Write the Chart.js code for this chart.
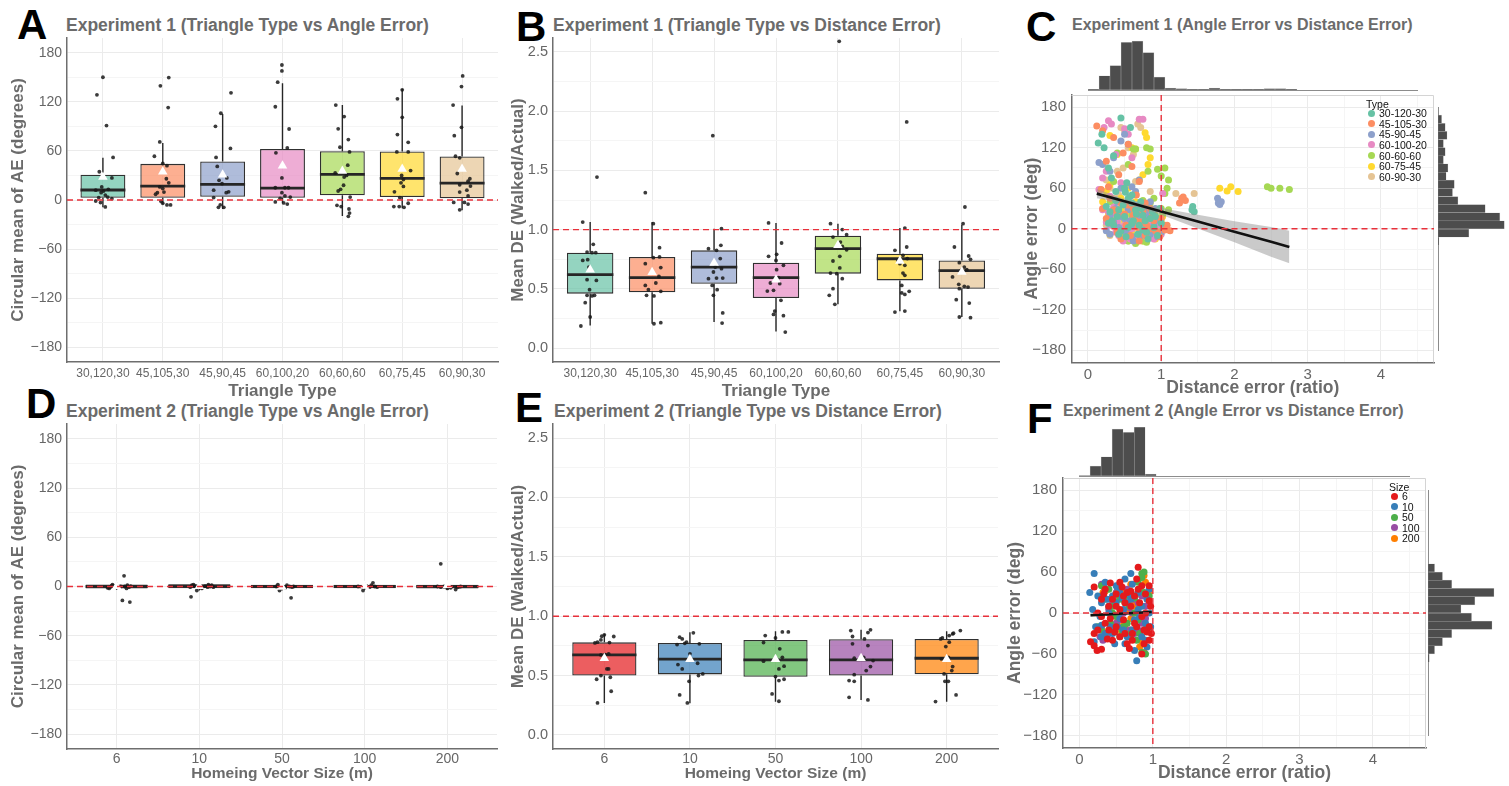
<!DOCTYPE html>
<html>
<head>
<meta charset="utf-8">
<script src="https://cdn.jsdelivr.net/npm/chart.js"></script>
<style>
  body { margin: 0; background: #fff; width: 1509px; height: 786px; position: relative; overflow: hidden;
         font-family: 'Liberation Sans', Arial, sans-serif; }
  canvas { position: absolute; }
  .letter { position: absolute; font-size: 42px; font-weight: bold; line-height: 1; color: #000; }
  .ttl { position: absolute; font-weight: bold; color: #6b6b6b; line-height: 1; white-space: nowrap; }
  .lg { position: absolute; font-family: 'Liberation Sans', Arial, sans-serif;
        font-size: 10.5px; line-height: 1; color: #111; white-space: nowrap; }
  .dot { position: absolute; width: 7px; height: 7px; border-radius: 50%; }
</style>
</head>
<body>

<div class="letter" style="left:17px;top:4px">A</div>
<div class="letter" style="left:516px;top:6px">B</div>
<div class="letter" style="left:1026px;top:6px">C</div>
<div class="letter" style="left:26px;top:383px">D</div>
<div class="letter" style="left:515px;top:387px">E</div>
<div class="letter" style="left:1027px;top:398px">F</div>

<div class="ttl" style="left:66px;top:17px;font-size:17.5px">Experiment 1 (Triangle Type vs Angle Error)</div>
<div class="ttl" style="left:553px;top:17px;font-size:17.5px">Experiment 1 (Triangle Type vs Distance Error)</div>
<div class="ttl" style="left:1072px;top:17px;font-size:16px">Experiment 1 (Angle Error vs Distance Error)</div>
<div class="ttl" style="left:66px;top:403px;font-size:17.5px">Experiment 2 (Triangle Type vs Angle Error)</div>
<div class="ttl" style="left:554px;top:403px;font-size:17.5px">Experiment 2 (Triangle Type vs Distance Error)</div>
<div class="ttl" style="left:1063px;top:403px;font-size:16px">Experiment 2 (Angle Error vs Distance Error)</div>

<canvas id="cA" width="504" height="384" style="left:0px;top:20px"></canvas>
<canvas id="cB" width="505" height="384" style="left:500px;top:20px"></canvas>
<canvas id="cCtop" width="330" height="52" style="left:1088px;top:40px"></canvas>
<canvas id="cCright" width="72" height="244" style="left:1436px;top:107px"></canvas>
<canvas id="cC" width="430" height="325" style="left:1010px;top:77px"></canvas>
<canvas id="cD" width="503" height="380" style="left:0px;top:406px"></canvas>
<canvas id="cE" width="504" height="380" style="left:500px;top:406px"></canvas>
<canvas id="cFtop" width="331" height="51" style="left:1079px;top:427px"></canvas>
<canvas id="cFright" width="72" height="246" style="left:1426px;top:490px"></canvas>
<canvas id="cF" width="437" height="326" style="left:995px;top:460px"></canvas>

<div id="legC"></div>
<div id="legF"></div>

<script>
// ---------------- data ----------------
const TRI_TYPES = ['30,120,30', '45,105,30', '45,90,45', '60,100,20', '60,60,60', '60,75,45', '60,90,30'];
const SIZES = ['6', '10', '50', '100', '200'];

// A: experiment 1, angle error per triangle type
const A_q1   = [2.8, 2.8, 4.0, 2.8, 5.7, 3.6, 2.0];
const A_med  = [12.2, 17.0, 19.0, 14.6, 31.2, 26.4, 20.7];
const A_q3   = [30.8, 44.2, 47.0, 62.4, 59.6, 59.2, 53.1];
const A_lo   = [-9, -5, -11, -4, -19.5, -10, -12.6];
const A_hi   = [51.5, 69.7, 105, 142.7, 116, 135.8, 115.5];
const A_mean = [28, 34.5, 31, 41.8, 35.3, 38, 38];
const A_pts = [
  [150, 128.5, 91, 52, 34.5, 27, 16, 12, 13, 9, 6, 3, 1.6, -1.2, -3.2, -8.5, 3.6, 11],
  [149.6, 139.5, 113, 71, 53.5, 44.6, 42, 26, 21, 16, 14, 9, 7, 9.7, -1.6, -4, -6, -6],
  [131, 106, 90, 63, 52, 41, 27, 24, 20, 12, 10, 9, 3, -6, -9, -9],
  [165, 157.7, 144, 114, 86.8, 57.6, 63.6, 27, 15, 15, 15, 9, 5, 3.6, 2, -2.4, -3.6, -5],
  [116, 102, 87, 73.8, 64.5, 58.8, 42.6, 33, 28, 30, 18, 13, 11, 3.6, -6.5, -8, -11, -16, -20],
  [123.6, 134.6, 101, 80, 70.5, 58.8, 58.8, 36, 30, 25, 21, 16.6, 10, 3, -8, -8, -9, -4],
  [151.6, 138.6, 116, 88.8, 78.6, 53.5, 51.5, 32.4, 26, 23, 18.6, 17, 9.7, 12, 5, -3, -12, -5, -3]
];
const A_jit = [
  [0, -0.1, 0.06, 0.17, -0.06, 0.15, -0.02, -0.12, 0.09, -0.03, 0.04, -0.07, 0.15, -0.12, -0.04, 0.04, 0.08, 0.01],
  [0.1, -0.04, 0.09, -0.05, -0.14, 0, 0.07, 0.06, 0.1, -0.05, 0, -0.09, -0.12, 0.02, -0.03, 0, 0.07, 0.13],
  [0.14, -0.03, -0.12, 0.13, -0.11, -0.09, 0.07, -0.06, -0.01, -0.15, 0.1, 0.06, -0.15, -0.04, 0.02, -0.07],
  [-0.01, -0.01, -0.08, -0.12, 0.11, -0.11, 0.08, -0.01, -0.12, 0.04, 0.1, -0.01, 0.04, 0.13, -0.04, -0.12, 0.02, 0.08],
  [-0.11, 0.03, -0.07, 0.1, -0.04, 0.12, 0.09, -0.12, 0.03, 0.07, 0.02, -0.03, -0.07, 0.13, -0.09, -0.02, 0.11, 0.12, 0.1],
  [-0.08, 0, 0, -0.08, 0.1, -0.09, 0.1, 0.14, -0.01, 0.02, -0.02, 0.02, -0.13, -0.04, -0.14, -0.05, 0.03, 0.1],
  [0.01, -0.01, -0.15, -0.01, -0.13, -0.11, -0.04, -0.08, 0.13, 0.1, -0.04, 0.14, -0.04, 0.08, 0.1, -0.14, -0.04, 0.1, 0.04]
];

// B: experiment 1, distance error per triangle type
const B_q1   = [0.459, 0.47, 0.543, 0.422, 0.628, 0.571, 0.501];
const B_med  = [0.619, 0.594, 0.684, 0.594, 0.839, 0.754, 0.653];
const B_q3   = [0.805, 0.769, 0.825, 0.72, 0.949, 0.797, 0.74];
const B_lo   = [0.19, 0.205, 0.22, 0.14, 0.369, 0.31, 0.262];
const B_hi   = [1.064, 1.064, 1.008, 1.056, 1.05, 1.013, 1.042];
const B_mean = [0.66, 0.64, 0.718, 0.577, 0.867, 0.735, 0.642];
const B_pts = [
  [1.444, 1.064, 0.876, 0.81, 0.805, 0.805, 0.74, 0.746, 0.577, 0.571, 0.493, 0.445, 0.445, 0.44, 0.383, 0.262, 0.186, 0.684],
  [1.312, 1.05, 0.847, 0.763, 0.769, 0.712, 0.679, 0.605, 0.529, 0.549, 0.493, 0.479, 0.445, 0.44, 0.205, 0.214, 0.64],
  [1.793, 1.008, 0.867, 0.839, 0.825, 0.755, 0.67, 0.642, 0.586, 0.591, 0.591, 0.529, 0.493, 0.445, 0.296, 0.211, 0.684],
  [1.056, 0.887, 0.791, 0.774, 0.698, 0.662, 0.594, 0.549, 0.543, 0.481, 0.487, 0.403, 0.312, 0.284, 0.273, 0.135, 0.74],
  [2.59, 1.05, 1.0, 0.957, 0.937, 0.895, 0.859, 0.83, 0.774, 0.735, 0.676, 0.633, 0.586, 0.501, 0.445, 0.369, 0.628],
  [1.909, 1.013, 0.853, 0.825, 0.783, 0.755, 0.74, 0.698, 0.633, 0.614, 0.529, 0.479, 0.465, 0.453, 0.304, 0.312, 0.712],
  [1.191, 1.05, 0.853, 0.777, 0.721, 0.749, 0.684, 0.662, 0.6, 0.538, 0.521, 0.501, 0.515, 0.408, 0.38, 0.262, 0.256, 0.656]
];
const B_jit = [
  [0.11, -0.12, 0.05, -0.05, 0.03, 0.09, -0.12, -0.04, -0.05, 0.1, -0.01, -0.05, 0.07, 0.03, -0.08, 0, -0.15, -0.02],
  [-0.11, 0.02, 0.12, 0.02, 0.12, -0.11, 0.14, 0.11, -0.11, 0.06, -0.06, 0.14, -0.09, 0.03, 0.03, 0.14, -0.01],
  [-0.02, 0.12, 0.11, -0.09, 0.04, 0.1, 0.12, -0.01, -0.09, 0.04, 0.14, -0.03, 0.05, -0.01, 0.14, 0.13, 0.02],
  [-0.12, 0.09, 0.01, -0.12, 0.12, 0.01, 0.04, -0.09, 0.06, -0.14, -0.04, 0.08, -0.02, -0.04, 0.12, 0.15, 0],
  [0.02, -0.12, 0.07, 0.14, -0.08, 0.04, 0.07, 0.14, 0.03, -0.08, 0.03, -0.12, 0.07, -0.08, -0.14, -0.05, -0.02],
  [0.11, 0.08, 0.11, -0.08, 0.05, 0.12, -0.03, 0.08, 0.05, 0.08, 0.03, 0.15, 0.03, 0.08, -0.08, 0.08, 0],
  [0.05, 0.02, -0.12, 0.11, -0.04, 0.14, 0.04, 0.08, -0.15, -0.05, 0.04, -0.04, 0.1, -0.09, 0.12, -0.04, 0.14, -0.01]
];

// D: experiment 2, angle error per homing vector size
const D_q1   = [-2.5, -2, -2.2, -2, -2.3];
const D_med  = [0, 0.5, 0, 0, 0];
const D_q3   = [2.5, 2.8, 2, 2.2, 2];
const D_lo   = [-4, -5, -5, -4, -4];
const D_hi   = [5, 5, 4, 5, 4];
const D_mean = [0.3, 0.2, -0.5, 0.5, 1.5];
const D_pts = [
  [13, -17, -19, -0.8, 2.4, 0.8, 1.6, -0.8, 0, -1.6, -2.4, -2.4, 0.5, 0, 1],
  [-12.6, 2.4, -4.9, -0.8, 0.5, 1.6, 2.4, 1.6, 0.4, -0.8, -2.4, -0.8, 0],
  [-13.8, -4.9, 2.4, 0, -1.6, 1.6, 0, -0.8, 0, -1.6],
  [-4.9, 4.5, 1.6, 0, -0.8, -0.8, 0.8, -0.8, 0],
  [27.6, -3.7, -0.4, -0.8, 0, -1.6, -2.4, -0.8, 0, 0]
];
const D_jit = [
  [0.09, 0.07, 0.16, -0.08, -0.05, -0.03, 0.13, 0.15, 0.1, -0.11, -0.09, 0.12, 0.17, 0.05, -0.06],
  [-0.1, -0.07, -0.03, -0.11, -0.06, -0.09, 0.11, 0.15, 0.07, 0.17, 0.03, 0.1, 0.13],
  [0.11, -0.03, -0.05, -0.07, -0.01, 0.06, 0.09, 0.12, 0.14, 0.04],
  [-0.02, 0.1, 0.08, 0.12, 0.06, -0.04, 0.02, 0.15, -0.08],
  [-0.08, 0.1, 0.14, -0.08, -0.04, 0.04, 0, 0.12, 0.16, -0.12]
];

// E: experiment 2, distance error per homing vector size
const E_q1   = [0.50, 0.51, 0.49, 0.50, 0.511];
const E_med  = [0.674, 0.638, 0.632, 0.632, 0.646];
const E_q3   = [0.78, 0.775, 0.80, 0.806, 0.809];
const E_lo   = [0.27, 0.267, 0.28, 0.295, 0.28];
const E_hi   = [0.85, 0.865, 0.873, 0.885, 0.873];
const E_mean = [0.646, 0.638, 0.638, 0.646, 0.638];
const E_pts = [
  [0.27, 0.368, 0.469, 0.5, 0.486, 0.556, 0.556, 0.677, 0.683, 0.674, 0.775, 0.781, 0.80, 0.831, 0.843, 0.829, 0.778],
  [0.27, 0.337, 0.452, 0.5, 0.514, 0.556, 0.593, 0.604, 0.683, 0.767, 0.761, 0.781, 0.823, 0.809, 0.86, 0.772],
  [0.284, 0.346, 0.458, 0.469, 0.492, 0.556, 0.579, 0.621, 0.654, 0.725, 0.778, 0.837, 0.817, 0.868, 0.868, 0.64],
  [0.295, 0.317, 0.458, 0.452, 0.508, 0.542, 0.576, 0.626, 0.646, 0.654, 0.753, 0.767, 0.809, 0.829, 0.879, 0.885, 0.862],
  [0.281, 0.337, 0.452, 0.452, 0.514, 0.542, 0.576, 0.64, 0.654, 0.744, 0.781, 0.809, 0.817, 0.837, 0.851, 0.879, 0.857]
];
const E_jit = [
  [-0.08, 0.08, -0.09, -0.04, 0.07, 0.05, 0.03, 0.01, 0.05, -0.04, -0.11, -0.08, -0.04, -0.03, 0, 0.11, 0.06],
  [-0.03, -0.12, -0.01, 0.1, 0.15, -0.09, -0.14, 0.09, 0, 0.11, -0.15, -0.04, -0.12, -0.09, 0.04, -0.06],
  [0.04, -0.04, 0.04, 0.1, 0, 0.04, 0.1, -0.14, 0.08, 0.05, -0.14, -0.12, 0, 0.08, 0.15, 0.01],
  [0.08, -0.14, -0.14, -0.08, -0.08, 0.06, 0.11, 0.14, -0.08, 0.03, 0.08, -0.1, 0.04, -0.1, -0.12, 0.11, 0.08],
  [-0.13, 0.11, -0.02, 0.02, -0.03, 0.06, 0.07, -0.06, 0.02, -0.01, 0.03, -0.07, -0.05, 0.03, 0.07, 0.16, 0.08]
];

// C: experiment 1 scatter, [distance ratio, angle error]
const TYPE_NAMES = ['30-120-30', '45-105-30', '45-90-45', '60-100-20', '60-60-60', '60-75-45', '60-90-30'];
const C_30_120_30 = [[0.14,127],[0.19,140],[0.28,90],[0.45,164],[0.51,54],[0.53,68],[0.22,120],[0.35,108],[0.6,50],[0.55,45],[0.48,35],[0.3,25],[0.25,33],[0.4,18],[0.62,12],[0.7,5],[0.8,-5],[0.9,2],[0.65,28],[0.75,20],[0.85,15],[0.5,60],[0.58,150],[0.32,75],[0.42,-8],[0.95,-10],[1.0,8],[1.43,33],[1.45,25],[1.42,28],[0.72,40],[0.38,55],
  [0.35,5],[0.45,-3],[0.55,2],[0.6,8],[0.68,-8],[0.78,12],[0.88,25],[0.5,18],[0.42,28],[0.33,12],[0.73,30],[0.82,-15],[0.6,38],[0.92,18],[0.28,8],[0.52,-12],[0.66,22],[0.38,42],[0.98,30],[0.75,-2]];
const C_45_105_30 = [[0.12,152],[0.2,145],[0.35,135],[0.55,125],[0.6,92],[0.42,80],[0.28,62],[0.18,58],[0.3,45],[0.45,38],[0.62,30],[0.5,22],[0.72,10],[0.85,0],[0.95,-5],[1.05,-2],[1.12,-3],[1.0,15],[0.78,-10],[0.66,50],[0.48,112],[0.25,100],[1.25,38],[1.3,47],[1.33,42],[1.28,45],[0.4,-5],[0.88,22],[0.2,30],[0.7,70],
  [0.33,10],[0.4,20],[0.52,5],[0.58,-10],[0.65,12],[0.75,25],[0.8,5],[0.9,12],[0.98,-12],[1.08,5],[0.55,35],[0.45,-15],[0.7,-18],[0.62,20],[0.85,30],[0.35,28],[0.25,15],[0.92,-3],[0.78,38],[0.68,2]];
const C_45_90_45 = [[0.15,98],[0.2,95],[0.3,85],[0.45,130],[0.5,140],[0.55,125],[0.6,62],[0.65,55],[0.58,48],[0.4,40],[0.3,20],[0.5,15],[0.62,5],[0.75,-5],[0.85,-8],[0.95,-12],[1.05,0],[0.7,72],[0.35,105],[0.82,18],[1.77,45],[1.78,38],[1.8,36],[1.82,40],[0.25,-3],[0.92,30],[0.68,10],[0.45,60],
  [0.35,10],[0.42,2],[0.55,28],[0.6,-12],[0.7,20],[0.78,8],[0.88,-2],[0.98,12],[0.52,-5],[0.65,35],[0.45,18],[0.72,-10],[0.8,28],[0.38,30],[0.58,12],[0.9,5],[1.0,-5],[0.3,-8],[0.85,40],[0.62,-18]];
const C_60_100_20 = [[0.22,150],[0.28,160],[0.32,155],[0.7,162],[0.75,162],[0.5,148],[0.55,140],[0.38,110],[0.25,85],[0.2,75],[0.45,68],[0.3,48],[0.2,28],[0.28,25],[0.35,22],[0.4,10],[0.5,5],[0.6,0],[0.72,-5],[0.8,-12],[0.92,-3],[1.02,52],[0.55,30],[0.65,18],[0.42,-10],[0.85,8],[0.15,58],[0.6,105],[1.0,-8],
  [0.3,5],[0.38,-5],[0.45,20],[0.52,12],[0.58,-15],[0.66,8],[0.7,25],[0.78,2],[0.86,-8],[0.95,5],[0.35,32],[0.48,-18],[0.62,35],[0.75,15],[0.25,10],[0.55,-2],[0.82,22],[0.68,-12],[0.4,40],[0.9,-15]];
const C_60_60_60 = [[0.4,112],[0.55,95],[0.62,118],[0.65,118],[0.8,120],[0.85,118],[0.82,85],[0.95,88],[1.05,90],[1.0,78],[1.1,72],[1.08,60],[1.05,52],[0.9,45],[0.85,38],[0.9,28],[1.0,30],[1.1,28],[0.6,20],[0.5,0],[0.45,-10],[0.55,-18],[0.65,-22],[0.75,-18],[0.85,-12],[0.7,5],[0.35,70],[2.45,62],[2.5,60],[2.62,60],[2.75,58],[0.95,8],[0.3,40],
  [0.6,5],[0.68,12],[0.72,-8],[0.78,18],[0.82,0],[0.88,-5],[0.95,15],[1.0,-2],[1.05,5],[0.58,30],[0.65,35],[0.75,42],[0.5,15],[0.42,25],[0.62,-12],[0.7,-15],[0.8,-20],[0.92,20],[1.02,22],[0.55,8]];
const C_60_75_45 = [[0.3,138],[0.6,120],[0.65,118],[0.8,135],[0.78,142],[0.85,105],[0.82,95],[0.75,80],[0.7,72],[0.55,60],[0.4,110],[0.3,65],[0.25,55],[0.45,30],[0.5,12],[0.6,-2],[0.7,-12],[0.8,-5],[0.88,10],[0.92,-15],[0.3,-8],[0.38,5],[1.8,60],[1.9,56],[1.95,62],[2.05,55],[0.65,40],[0.2,40],[1.02,18],
  [0.35,15],[0.42,-5],[0.5,-10],[0.55,25],[0.62,10],[0.68,2],[0.72,18],[0.78,-8],[0.85,25],[0.95,5],[0.45,45],[0.58,-15],[0.65,30],[0.75,-18],[0.82,12],[0.9,-8],[0.28,22],[0.52,5],[0.7,35],[0.98,0]];
const C_60_90_30 = [[0.45,150],[0.5,145],[0.68,155],[0.72,150],[0.55,120],[0.62,110],[0.48,90],[0.4,85],[0.3,60],[0.35,45],[0.55,40],[0.6,25],[0.7,15],[0.3,-10],[0.4,0],[0.5,-15],[0.62,-8],[0.75,3],[0.9,-5],[0.8,30],[1.2,52],[1.45,52],[0.25,72],[0.65,70],[0.85,55],[0.45,10],
  [0.32,20],[0.38,30],[0.45,-8],[0.52,18],[0.58,5],[0.65,-12],[0.7,28],[0.78,-2],[0.85,12],[0.95,-10],[0.42,50],[0.5,32],[0.6,-5],[0.68,8],[0.75,22],[0.88,2],[0.25,5],[0.55,-18],[0.35,38],[1.0,12]];
const C_fitX  = [0.12, 0.4, 0.65, 1.0, 1.5, 2.0, 2.5, 2.75];
const C_fitY  = [52, 43.6, 36.1, 25.6, 10.6, -4.4, -19.4, -26.9];
const C_fitLo = [45.3, 39.5, 33.1, 20.6, 0.5, -20, -41.5, -50.9];
const C_fitHi = [58.7, 47.7, 39.1, 30.6, 20.7, 11.2, 2.7, -2.9];
const C_histTop = [1, 21, 36, 70, 72, 55, 19, 3, 2, 1, 1, 3, 1, 1, 1, 1, 2, 2, 1, 0, 0, 0, 0, 0, 0, 0, 0, 0, 0, 0];
const C_histRight = [0, 0, 0, 0, 0, 0, 0, 0, 0, 0, 0, 0, 0, 1, 34, 73, 68, 52, 22, 16, 18, 9, 11, 6, 8, 6, 10, 8, 4, 0];

// F: experiment 2 scatter
const F_s6 = [[0.15,-42],[0.2,-48],[0.24,-55],[0.3,-53],[0.2,38],[0.42,44],[0.8,67],[0.95,40],[0.92,-28],[0.98,-30],[0.88,-45],[0.85,-60],[0.72,-40],[0.62,-30],[0.5,-20],[0.35,-15],[0.25,-25],[0.4,10],[0.55,5],[0.65,30],[0.7,32],[0.75,25],[0.82,15],[0.9,0],[0.5,28],[0.45,20],[0.3,-5],[0.6,-10],[0.95,18],[0.97,10],[0.78,-20],[0.68,-52],[0.38,-38],[0.55,45],[0.85,40],
  [0.2,-30],[0.25,0],[0.3,20],[0.35,35],[0.4,-25],[0.45,-40],[0.5,10],[0.55,-35],[0.6,25],[0.65,-45],[0.7,10],[0.75,-15],[0.8,35],[0.85,-5],[0.9,28],[0.95,-20],[0.42,-8],[0.58,38],[0.72,-30],[0.88,-25],[0.33,28],[0.62,15],[0.78,50],[0.95,-40],[0.48,-28]];
const F_s10 = [[0.2,58],[0.14,30],[0.7,58],[0.78,-70],[0.2,-42],[0.48,-45],[0.5,40],[0.52,38],[0.3,15],[0.22,-20],[0.35,-30],[0.6,-25],[0.75,-55],[0.85,-35],[0.92,20],[0.95,35],[0.65,15],[0.55,-8],[0.4,0],[0.8,5],[0.9,-15],[0.45,25],[0.72,42],[0.62,50],[0.3,-18],[0.97,-20],[0.58,22],[0.88,-25],
  [0.18,5],[0.25,25],[0.3,-35],[0.38,20],[0.42,-20],[0.5,15],[0.55,30],[0.6,5],[0.65,-35],[0.7,20],[0.75,-10],[0.8,30],[0.85,10],[0.9,-40],[0.95,0],[0.35,45],[0.45,-30],[0.62,-45],[0.72,-25],[0.82,-5],[0.28,-5],[0.52,-20],[0.68,28],[0.92,-50],[0.4,10]];
const F_s50 = [[0.85,58],[0.88,60],[0.8,45],[0.9,-60],[0.85,-58],[0.3,-25],[0.35,-30],[0.45,10],[0.55,20],[0.65,-15],[0.7,30],[0.75,0],[0.6,-20],[0.4,35],[0.5,-5],[0.82,-30],[0.95,25],[0.3,40],[0.68,10],[0.78,-40],
  [0.25,-20],[0.35,20],[0.42,-15],[0.5,28],[0.58,-25],[0.62,15],[0.7,-30],[0.75,22],[0.8,-10],[0.88,30],[0.92,-20],[0.45,0],[0.55,-35],[0.65,25],[0.85,52]];
const F_s100 = [[0.3,42],[0.33,40],[0.32,-40],[0.28,-35],[0.5,30],[0.6,20],[0.7,-25],[0.75,-30],[0.8,15],[0.55,-10],[0.4,5],[0.65,35],[0.85,-15],[0.45,-22],[0.9,10],[0.72,0],
  [0.35,35],[0.4,-30],[0.45,18],[0.5,-15],[0.55,25],[0.62,-22],[0.68,8],[0.75,20],[0.8,-25],[0.85,25],[0.9,-8],[0.3,-20],[0.6,0],[0.7,-35],[0.52,35]];
const F_s200 = [[0.88,55],[0.35,32],[0.38,-32],[0.82,-50],[0.88,-58],[0.58,22],[0.65,5],[0.8,28],[0.6,-18],[0.7,-8],[0.5,-25],[0.85,-12],[0.45,15],[0.9,45],[0.55,0],[0.75,10],
  [0.32,30],[0.4,-25],[0.48,22],[0.52,-12],[0.62,30],[0.68,-25],[0.72,18],[0.78,-20],[0.82,35],[0.92,-22],[0.4,8],[0.58,-30],[0.85,-42],[0.95,30],[0.7,42]];
const F_fitX  = [0.15, 0.55, 0.985];
const F_fitY  = [-3.3, -1, 1.5];
const F_fitLo = [-6, -2.5, -1.5];
const F_fitHi = [-0.6, 0.5, 4.5];
const F_histTop = [1, 20, 39, 96, 89, 100, 4, 0, 0, 0, 0, 0, 0, 0, 0, 0, 0, 0, 0, 0, 0, 0, 0, 0, 0, 0, 0, 0, 0, 0];
const F_histRight = [0, 0, 0, 0, 0, 0, 0, 0, 0, 2, 10, 22, 36, 97, 66, 50, 71, 100, 36, 22, 10, 0, 0, 0, 0, 0, 0, 0, 0, 0];

const DIST_BIN = 0.15, ANGLE_BIN = 12;

// ---------------- styling ----------------
const SET2 = ['#66C2A5', '#FC8D62', '#8DA0CB', '#E78AC3', '#A6D854', '#FFD92F', '#E5C494'];
const SET1 = ['#E41A1C', '#377EB8', '#4DAF4A', '#984EA3', '#FF7F00'];
const GRID_MAJOR = '#EBEBEB', GRID_MINOR = '#F5F5F5', AXIS = '#6e6e6e', TICK = '#666666', TITLE = '#6b6b6b';
const REF_RED = '#E8303A';
const SANS = "'Liberation Sans', Arial, sans-serif";

Chart.defaults.font.family = SANS;

function alpha(hex, a) {
  const n = parseInt(hex.slice(1), 16);
  return `rgba(${n >> 16},${(n >> 8) & 255},${n & 255},${a})`;
}
const fmtDeg = v => (v < 0 ? '\u2212' + (-v) : String(v));
const degLabel = v => (v % 60 === 0 ? fmtDeg(v) : '');
const degMajor = v => v % 60 === 0;
const ratioLabel = v => (Math.abs(v * 2 - Math.round(v * 2)) < 1e-6 ? v.toFixed(1) : '');
const ratioMajor = v => Math.abs(v * 2 - Math.round(v * 2)) < 1e-6;

// whiskers + median line for the box datasets
function boxPlugin(st) {
  return {
    id: 'boxExtras',
    afterDatasetDraw(chart, args) {
      if (args.index !== 0) return;
      const ctx = chart.ctx, x = chart.scales.x, y = chart.scales.y;
      ctx.save();
      args.meta.data.forEach((bar, i) => {
        const cx = x.getPixelForValue(i), hw = bar.width / 2;
        ctx.strokeStyle = '#262626';
        ctx.lineWidth = 1.4;
        ctx.beginPath();
        ctx.moveTo(cx, y.getPixelForValue(st.q3[i])); ctx.lineTo(cx, y.getPixelForValue(st.hi[i]));
        ctx.moveTo(cx, y.getPixelForValue(st.q1[i])); ctx.lineTo(cx, y.getPixelForValue(st.lo[i]));
        ctx.stroke();
        const my = y.getPixelForValue(st.med[i]);
        ctx.lineWidth = 2.8;
        ctx.beginPath();
        ctx.moveTo(cx - hw, my); ctx.lineTo(cx + hw, my);
        ctx.stroke();
      });
      ctx.restore();
    }
  };
}

// red dashed reference lines
function refPlugin(ref) {
  return {
    id: 'refLines',
    afterDatasetsDraw(chart) {
      const {ctx, chartArea: a, scales} = chart;
      ctx.save();
      ctx.strokeStyle = REF_RED;
      ctx.lineWidth = 1.4;
      ctx.setLineDash([6, 4]);
      if (ref.y !== undefined) {
        const py = scales.y.getPixelForValue(ref.y);
        ctx.beginPath(); ctx.moveTo(a.left, py); ctx.lineTo(a.right, py); ctx.stroke();
      }
      if (ref.x !== undefined) {
        const px = scales.x.getPixelForValue(ref.x);
        ctx.beginPath(); ctx.moveTo(px, a.top); ctx.lineTo(px, a.bottom); ctx.stroke();
      }
      ctx.restore();
    }
  };
}

// light top/right frame of the scatter panels
const framePlugin = {
  id: 'frame',
  beforeDatasetsDraw(chart) {
    const {ctx, chartArea: a} = chart;
    ctx.save();
    ctx.strokeStyle = '#d4d4d4';
    ctx.lineWidth = 1;
    ctx.beginPath();
    ctx.moveTo(a.left, a.top + 0.5); ctx.lineTo(a.right - 0.5, a.top + 0.5); ctx.lineTo(a.right - 0.5, a.bottom);
    ctx.stroke();
    ctx.restore();
  }
};

function yScale(o) {
  return {
    min: o.yMin, max: o.yMax,
    ticks: { stepSize: o.yStep, includeBounds: false, autoSkip: false, padding: o.yPad, color: TICK,
             font: { size: o.yFont, weight: 'normal' }, callback: o.yFmt },
    grid: { drawTicks: false, color: c => (c.tick && !o.yMajor(c.tick.value) ? GRID_MINOR : GRID_MAJOR) },
    border: { display: true, color: AXIS, width: 1.5 },
    title: { display: true, text: o.yTitle, color: TITLE, padding: { top: o.yTitlePad, bottom: 0 },
             font: { size: o.yTitleSize, weight: 'bold' } },
    afterFit: s => { s.width = o.W; }
  };
}

function boxChart(o) {
  const n = o.cats.length;
  const pts = [];
  o.pts.forEach((vals, c) => vals.forEach((v, k) => pts.push({ x: c + o.jit[c][k], y: v })));
  return new Chart(document.getElementById(o.id), {
    type: 'bar',
    data: {
      datasets: [
        { data: o.cats.map((_, i) => ({ x: i, y: [o.q1[i], o.q3[i]] })),
          backgroundColor: o.colors.map(c => alpha(c, 0.7)), borderColor: '#303030', borderWidth: 1.3,
          borderSkipped: false, barPercentage: 0.75, categoryPercentage: 1, order: 3 },
        { type: 'scatter', data: pts, backgroundColor: 'rgba(25,25,25,0.85)', borderWidth: 0,
          pointRadius: 1.9, order: 2 },
        { type: 'scatter', data: o.mean.map((m, i) => ({ x: i, y: m })), pointStyle: 'triangle',
          pointRadius: 5.5, backgroundColor: '#ffffff', borderColor: '#ffffff', borderWidth: 0, order: 1 }
      ]
    },
    options: {
      responsive: false, animation: false, devicePixelRatio: 1,
      layout: { padding: { top: 18, right: 6, left: 0, bottom: 0 } },
      plugins: { legend: { display: false }, tooltip: { enabled: false } },
      scales: {
        x: {
          type: 'linear', min: -0.6, max: n - 0.4, offset: false,
          ticks: { stepSize: 1, includeBounds: false, autoSkip: false, maxRotation: 0, padding: o.xPad,
                   color: TICK, font: { size: o.xFont, weight: 'normal' },
                   callback: v => (o.cats[v] !== undefined ? o.cats[v] : '') },
          grid: { drawTicks: false, offset: false, color: GRID_MAJOR },
          border: { display: true, color: AXIS, width: 1.5 },
          title: { display: true, text: o.xTitle, color: TITLE, padding: { top: 0, bottom: o.xTitlePad },
                   font: { size: o.xTitleSize, weight: 'bold' } },
          afterFit: s => { s.height = o.H; }
        },
        y: yScale(o)
      }
    },
    plugins: [boxPlugin(o), refPlugin(o.ref)]
  });
}

function scatterChart(o) {
  const datasets = o.groups.map((g, i) => ({
    type: 'scatter', data: g.map(p => ({ x: p[0], y: p[1] })), backgroundColor: o.colors[i],
    borderWidth: 0, pointRadius: 3.5, order: 5
  }));
  datasets.push(
    { type: 'line', data: o.fitX.map((x, i) => ({ x, y: o.fitLo[i] })), borderWidth: 0, pointRadius: 0,
      fill: false, order: 2 },
    { type: 'line', data: o.fitX.map((x, i) => ({ x, y: o.fitHi[i] })), borderWidth: 0, pointRadius: 0,
      fill: '-1', backgroundColor: 'rgba(150,150,150,0.5)', order: 2 },
    { type: 'line', data: o.fitX.map((x, i) => ({ x, y: o.fitY[i] })), borderColor: '#111', borderWidth: 2.6,
      pointRadius: 0, fill: false, order: 1 }
  );
  return new Chart(document.getElementById(o.id), {
    type: 'scatter',
    data: { datasets },
    options: {
      responsive: false, animation: false, devicePixelRatio: 1,
      layout: { padding: { top: 18, right: 6, left: 0, bottom: 0 } },
      plugins: { legend: { display: false }, tooltip: { enabled: false } },
      scales: {
        x: {
          type: 'linear', min: -0.225, max: 4.725,
          ticks: { stepSize: 0.5, includeBounds: false, autoSkip: false, maxRotation: 0, padding: o.xPad,
                   color: TICK, font: { size: 15, weight: 'normal' },
                   callback: v => (Number.isInteger(v) ? String(v) : '') },
          grid: { drawTicks: false, color: c => (c.tick && !Number.isInteger(c.tick.value) ? GRID_MINOR : GRID_MAJOR) },
          border: { display: true, color: AXIS, width: 1.5 },
          title: { display: true, text: 'Distance error (ratio)', color: TITLE, padding: { top: 0, bottom: o.xTitlePad },
                   font: { size: 17.5, weight: 'bold' } },
          afterFit: s => { s.height = o.H; }
        },
        y: yScale(o)
      }
    },
    plugins: [framePlugin, refPlugin({ x: 1, y: 0 })]
  });
}

function histTop(id, counts, yMax) {
  const data = [];
  counts.forEach((c, i) => { if (c > 0) data.push({ x: DIST_BIN * (i + 0.5), y: c }); });
  return new Chart(document.getElementById(id), {
    type: 'bar',
    data: { datasets: [{ data, backgroundColor: '#4d4d4d', borderColor: 'rgba(170,170,170,0.5)', borderWidth: 0.5,
                         borderSkipped: false, barPercentage: 1, categoryPercentage: 1 }] },
    options: {
      responsive: false, animation: false, devicePixelRatio: 1,
      layout: { padding: 0 },
      plugins: { legend: { display: false }, tooltip: { enabled: false } },
      scales: {
        x: { type: 'linear', min: 0, max: DIST_BIN * counts.length, offset: false,
             ticks: { display: false, stepSize: 0.5 }, grid: { display: false, offset: false },
             border: { display: true, color: '#8c8c8c', width: 1 }, afterFit: s => { s.height = 2; } },
        y: { display: false, min: 0, max: yMax }
      }
    }
  });
}

function histRight(id, counts, xMax) {
  const data = [];
  counts.forEach((c, i) => { if (c > 0) data.push({ y: -180 + ANGLE_BIN * (i + 0.5), x: c }); });
  return new Chart(document.getElementById(id), {
    type: 'bar',
    data: { datasets: [{ data, backgroundColor: '#4d4d4d', borderColor: 'rgba(170,170,170,0.5)', borderWidth: 0.5,
                         borderSkipped: false, barPercentage: 1, categoryPercentage: 1 }] },
    options: {
      indexAxis: 'y',
      responsive: false, animation: false, devicePixelRatio: 1,
      layout: { padding: 0 },
      plugins: { legend: { display: false }, tooltip: { enabled: false } },
      scales: {
        y: { type: 'linear', min: -180, max: 180, offset: false,
             ticks: { display: false, stepSize: 60 }, grid: { display: false, offset: false },
             border: { display: true, color: '#8c8c8c', width: 1 }, afterFit: s => { s.width = 2; } },
        x: { display: false, min: 0, max: xMax }
      }
    }
  });
}

// ---------------- charts ----------------
const degAxis = { yMin: -198, yMax: 198, yStep: 30, yFmt: degLabel, yMajor: degMajor };
const ratioAxis = { yMin: -0.118, yMax: 2.618, yStep: 0.25, yFmt: ratioLabel, yMajor: ratioMajor };

boxChart(Object.assign({
  id: 'cA', cats: TRI_TYPES, colors: SET2, q1: A_q1, med: A_med, q3: A_q3, lo: A_lo, hi: A_hi, mean: A_mean,
  pts: A_pts, jit: A_jit, ref: { y: 0 }, W: 67, H: 42, xPad: 4, xFont: 12, yPad: 5, yFont: 14,
  xTitle: 'Triangle Type', xTitleSize: 17, xTitlePad: 2.8,
  yTitle: 'Circular mean of AE (degrees)', yTitleSize: 17, yTitlePad: 7.8
}, degAxis));

boxChart(Object.assign({
  id: 'cB', cats: TRI_TYPES, colors: SET2, q1: B_q1, med: B_med, q3: B_q3, lo: B_lo, hi: B_hi, mean: B_mean,
  pts: B_pts, jit: B_jit, ref: { y: 1 }, W: 53, H: 42, xPad: 4, xFont: 12, yPad: 5, yFont: 14.5,
  xTitle: 'Triangle Type', xTitleSize: 17, xTitlePad: 2.8,
  yTitle: 'Mean DE (Walked/Actual)', yTitleSize: 17, yTitlePad: 7.8
}, ratioAxis));

boxChart(Object.assign({
  id: 'cD', cats: SIZES, colors: SET1, q1: D_q1, med: D_med, q3: D_q3, lo: D_lo, hi: D_hi, mean: D_mean,
  pts: D_pts, jit: D_jit, ref: { y: 0 }, W: 67, H: 37, xPad: 2, xFont: 14, yPad: 5, yFont: 14,
  xTitle: 'Homeing Vector Size (m)', xTitleSize: 15.5, xTitlePad: 2.5,
  yTitle: 'Circular mean of AE (degrees)', yTitleSize: 17, yTitlePad: 7.8
}, degAxis));

boxChart(Object.assign({
  id: 'cE', cats: SIZES, colors: SET1, q1: E_q1, med: E_med, q3: E_q3, lo: E_lo, hi: E_hi, mean: E_mean,
  pts: E_pts, jit: E_jit, ref: { y: 1 }, W: 53, H: 37, xPad: 2, xFont: 14, yPad: 5, yFont: 14.5,
  xTitle: 'Homeing Vector Size (m)', xTitleSize: 15.5, xTitlePad: 2.5,
  yTitle: 'Mean DE (Walked/Actual)', yTitleSize: 17, yTitlePad: 7.8
}, ratioAxis));

scatterChart(Object.assign({
  id: 'cC', groups: [C_30_120_30, C_45_105_30, C_45_90_45, C_60_100_20, C_60_60_60, C_60_75_45, C_60_90_30],
  colors: SET2, fitX: C_fitX, fitY: C_fitY, fitLo: C_fitLo, fitHi: C_fitHi,
  W: 61.5, H: 39.5, xPad: 3, xTitlePad: 3.5, yPad: 5.5, yFont: 15,
  yTitle: 'Angle error (deg)', yTitleSize: 17.5, yTitlePad: 11.5
}, degAxis));

scatterChart(Object.assign({
  id: 'cF', groups: [F_s6, F_s10, F_s50, F_s100, F_s200],
  colors: SET1, fitX: F_fitX, fitY: F_fitY, fitLo: F_fitLo, fitHi: F_fitHi,
  W: 68, H: 38, xPad: 3, xTitlePad: 2.5, yPad: 6, yFont: 15,
  yTitle: 'Angle error (deg)', yTitleSize: 17.5, yTitlePad: 9.5
}, degAxis));

histTop('cCtop', C_histTop, 73.5);
histRight('cCright', C_histRight, 77);
histTop('cFtop', F_histTop, 100);
histRight('cFright', F_histRight, 106);

// ---------------- legends ----------------
function legend(holder, title, left, top, names, colors, step) {
  const el = document.getElementById(holder);
  let html = `<div class="lg" style="left:${left}px;top:${top}px">${title}</div>`;
  names.forEach((nm, i) => {
    const cy = top + 14 + i * step;
    html += `<div class="dot" style="left:${left + 2}px;top:${cy - 3.5}px;background:${colors[i]}"></div>`;
    html += `<div class="lg" style="left:${left + 13}px;top:${cy - 5}px">${nm}</div>`;
  });
  el.innerHTML = html;
}
legend('legC', 'Type', 1366, 99, TYPE_NAMES, SET2, 10.65);
legend('legF', 'Size', 1389, 482, SIZES, SET1, 10.5);
</script>
</body>
</html>
